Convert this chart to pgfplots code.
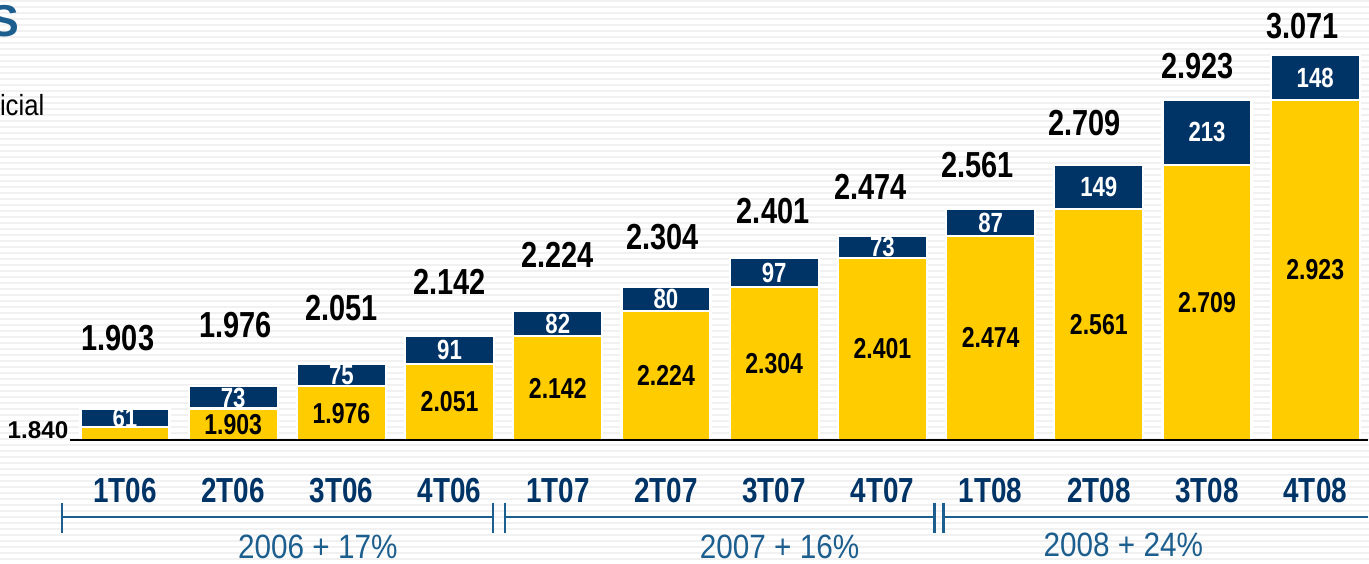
\documentclass[border=0pt]{standalone}
\usepackage{pgfplots}
\pgfplotsset{compat=1.18}
\usepackage{pgfplotstable}
\usepackage{fontspec}
\setmainfont{Liberation Sans}
\newfontfamily\narw{Liberation Sans}[FakeStretch=0.8]
\newfontfamily\medw{Liberation Sans}[FakeStretch=0.88]

\definecolor{navy}{HTML}{003366}
\definecolor{gold}{HTML}{FFCC00}
\definecolor{steel}{HTML}{1C5E8E}

% base = previous quarter, inc = growth, tot = quarter total
% labx, laby = where the total label sits
\pgfplotstableread{
i base inc tot labx laby
0 1842 61 1903 -0.065 2136
1 1903 73 1976 0.02 2179
2 1976 75 2051 0 2235
3 2051 91 2142 0 2321
4 2142 82 2224 0 2410
5 2224 80 2304 -0.03 2470
6 2304 97 2401 -0.01 2556
7 2401 73 2474 -0.11 2635
8 2474 87 2561 -0.12 2707
9 2561 149 2709 -0.13 2846
10 2709 213 2923 -0.09 3035
11 2923 148 3071 -0.12 3167
}\data

\begin{document}
\begin{tikzpicture}
\useasboundingbox (-0.70,-1.23) rectangle (12.99,4.40);
\clip (-0.70,-1.23) rectangle (12.99,4.40);
\fill[white] (-0.70,-1.23) rectangle (12.99,4.40);
\foreach \k in {0,...,94}
  \fill[gray!11] (-0.70,{4.40-\k*0.06}) rectangle (12.99,{4.40-\k*0.06-0.025});

\begin{axis}[
  at={(0,0)}, anchor=south west,
  scale only axis, width=12.99cm, height=4.40cm,
  xmin=-0.508, xmax=11.497, ymin=1799, ymax=3253,
  axis line style={draw=none}, tick style={draw=none},
  ytick=\empty, xtick={0,...,11},
  xticklabels={1T06,2T06,3T06,4T06,1T07,2T07,3T07,4T07,1T08,2T08,3T08,4T08},
  xticklabel style={anchor=center, yshift=-0.51cm, text=navy,
    font=\narw\bfseries\fontsize{9.9}{10}\selectfont},
  /pgf/number format/1000 sep={.},
  /pgf/number format/assume math mode=true,
  labs/.style={only marks, mark=text, text mark={}, nodes near coords},
]
\addplot[ybar, bar width=0.89cm, bar shift=0pt, fill=navy, draw=white, line width=0.6pt]
  table[x=i, y=tot] {\data};
\addplot[ybar, bar width=0.89cm, bar shift=0pt, fill=gold, draw=white, line width=0.6pt]
  table[x=i, y=base] {\data};

% totals above the bars
\addplot[labs, point meta=\thisrow{tot},
  nodes near coords style={anchor=center, text=black,
    font=\narw\bfseries\fontsize{10.3}{11}\selectfont}]
  table[x expr=\thisrow{i}+\thisrow{labx}, y=laby] {\data};
% previous quarter inside the yellow part
\addplot[labs, restrict x to domain=0.5:11.5, point meta=\thisrow{base},
  nodes near coords style={anchor=center, text=black,
    font=\narw\bfseries\fontsize{8.2}{9}\selectfont}]
  table[x=i, y expr=(\thisrow{base}+1799)/2] {\data};
% growth inside the navy part
\addplot[labs, point meta=explicit symbolic,
  nodes near coords style={anchor=center, text=white,
    font=\narw\bfseries\fontsize{7.9}{8}\selectfont}]
  table[x=i, y expr=(\thisrow{base}+\thisrow{tot})/2, meta=inc] {\data};
\end{axis}

\begin{scope}[x=0.01cm, y=-0.01cm, shift={(-0.70cm,4.40cm)}]
  \draw[black, line width=0.6pt] (70,440) -- (1369,440);
  \node[anchor=base east, inner sep=0pt, font=\bfseries\fontsize{6.9}{7}\selectfont] at (69,439) {1.840};
  \node[anchor=base east, inner sep=0pt, text=steel, font=\bfseries\fontsize{12.7}{13}\selectfont] at (20,37) {S};
  \node[anchor=base east, inner sep=0pt, font=\medw\fontsize{8.3}{9}\selectfont] at (45,116) {icial};

  \begin{scope}[draw=steel, line width=0.6pt]
    \draw (62,517) -- (493,517); \draw (62,503) -- (62,533); \draw (493,503) -- (493,533);
    \draw (505,517) -- (935,517); \draw (505,503) -- (505,533); \draw (935,503) -- (935,533);
    \draw (944,517) -- (1369,517); \draw (944,503) -- (944,533);
  \end{scope}
  \begin{scope}[every node/.style={text=steel, font=\medw\fontsize{9.6}{10}\selectfont}]
    \node at (318,547) {2006 + 17\%};
    \node at (780,547) {2007 + 16\%};
    \node at (1124,545) {2008 + 24\%};
  \end{scope}
\end{scope}
\end{tikzpicture}
\end{document}
